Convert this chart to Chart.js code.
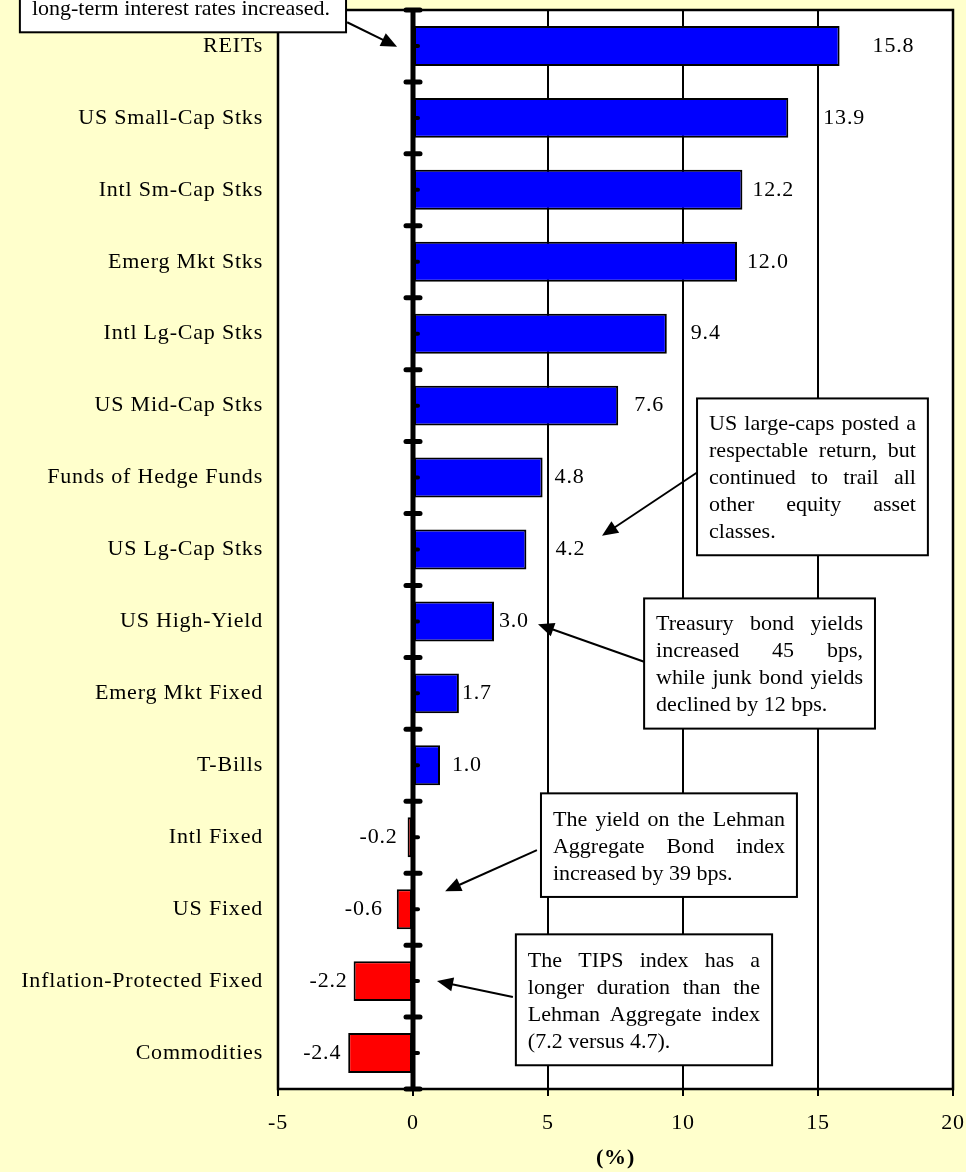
<!DOCTYPE html>
<html lang="en">
<head>
<meta charset="UTF-8" />
<title>Asset Class Returns</title>
<script src="https://cdn.jsdelivr.net/npm/chart.js"></script>
<style>
  html, body { margin: 0; padding: 0; background: #ffffcc; }
  canvas { display: block; }
</style>
</head>
<body>
<canvas id="grafica" width="966" height="1172"></canvas>

<script>
// data
const categories = [
  'REITs', 'US Small-Cap Stks', 'Intl Sm-Cap Stks', 'Emerg Mkt Stks',
  'Intl Lg-Cap Stks', 'US Mid-Cap Stks', 'Funds of Hedge Funds', 'US Lg-Cap Stks',
  'US High-Yield', 'Emerg Mkt Fixed', 'T-Bills', 'Intl Fixed', 'US Fixed',
  'Inflation-Protected Fixed', 'Commodities'
];
const returns = [15.8, 13.9, 12.2, 12.0, 9.4, 7.6, 4.8, 4.2, 3.0, 1.7, 1.0, -0.2, -0.6, -2.2, -2.4];
const xTicks = [-5, 0, 5, 10, 15, 20];
const axisTitle = '(%)';

// gap in px between bar end and its value label (labels were hand placed)
const labelGap = [33, 35, 10, 10, 24, 16, 12, 29, 5, 3, 12, 10, 14, 6, 7];

// callouts: box and arrow in axis units (x = %, y = category index)
const notes = [
  { lines: ['long-term interest rates increased.'],
    box: [-14.56, -1.5, -2.48, -0.19], from: [-2.44, -0.33], to: [-0.59, 0.01] },
  { lines: ['US large-caps posted a', 'respectable return, but', 'continued to trail all', 'other equity asset', 'classes.'],
    box: [10.52, 4.90, 19.07, 7.08], from: [10.52, 5.93], to: [7.0, 6.81] },
  { lines: ['Treasury bond yields', 'increased 45 bps,', 'while junk bond yields', 'declined by 12 bps.'],
    box: [8.56, 7.68, 17.11, 9.49], from: [8.56, 8.56], to: [4.63, 8.04] },
  { lines: ['The yield on the Lehman', 'Aggregate Bond index', 'increased by 39 bps.'],
    box: [4.74, 10.39, 14.22, 11.83], from: [4.59, 11.18], to: [1.19, 11.75] },
  { lines: ['The TIPS index has a', 'longer duration than the', 'Lehman Aggregate index', '(7.2 versus 4.7).'],
    box: [3.81, 12.35, 13.30, 14.17], from: [3.70, 13.22], to: [0.89, 13.0] }
];

const FONT = "'Liberation Serif', 'Times New Roman', serif";

function arrow(ctx, x1, y1, x2, y2) {
  const a = Math.atan2(y2 - y1, x2 - x1);
  const len = 16, hw = 7;
  ctx.beginPath();
  ctx.moveTo(x1, y1);
  ctx.lineTo(x2 - Math.cos(a) * len * 0.8, y2 - Math.sin(a) * len * 0.8);
  ctx.stroke();
  ctx.beginPath();
  ctx.moveTo(x2, y2);
  ctx.lineTo(x2 - Math.cos(a) * len - Math.sin(a) * hw, y2 - Math.sin(a) * len + Math.cos(a) * hw);
  ctx.lineTo(x2 - Math.cos(a) * len + Math.sin(a) * hw, y2 - Math.sin(a) * len - Math.cos(a) * hw);
  ctx.closePath();
  ctx.fill();
}

const decor = {
  id: 'decor',
  beforeDraw(chart) {
    const { ctx, chartArea: ca } = chart;
    ctx.save();
    ctx.fillStyle = '#ffffcc';
    ctx.fillRect(0, 0, chart.width, chart.height);
    ctx.fillStyle = '#ffffff';
    ctx.fillRect(ca.left, ca.top, ca.right - ca.left, ca.bottom - ca.top);
    ctx.restore();
    ctx.letterSpacing = '0.8px';
  },
  afterDatasetsDraw(chart) {
    const { ctx, chartArea: ca } = chart;
    const xs = chart.scales.x, ys = chart.scales.y;
    ctx.save();
    // frame
    ctx.strokeStyle = '#000';
    ctx.lineWidth = 2.5;
    ctx.strokeRect(ca.left, ca.top, ca.right - ca.left, ca.bottom - ca.top);

    // zero axis with its tick marks
    const x0 = xs.getPixelForValue(0);
    ctx.lineWidth = 5;
    ctx.beginPath();
    ctx.moveTo(x0, ca.top);
    ctx.lineTo(x0, ca.bottom);
    ctx.stroke();
    ctx.lineCap = 'round';
    for (let i = 0; i <= categories.length; i++) {
      const y = ys.getPixelForValue(i - 0.5);
      ctx.beginPath();
      ctx.moveTo(x0 - 7, y);
      ctx.lineTo(x0 + 7, y);
      ctx.stroke();
    }
    ctx.lineWidth = 4;
    for (let i = 0; i < categories.length; i++) {
      const y = ys.getPixelForValue(i);
      ctx.beginPath();
      ctx.moveTo(x0, y);
      ctx.lineTo(x0 + 5, y);
      ctx.stroke();
    }

    // value labels
    const meta = chart.getDatasetMeta(0);
    ctx.fillStyle = '#000';
    ctx.font = '22px ' + FONT;
    ctx.letterSpacing = '0.8px';
    ctx.textBaseline = 'middle';
    meta.data.forEach((bar, i) => {
      const v = returns[i];
      const txt = v.toFixed(1);
      if (v < 0) {
        ctx.textAlign = 'right';
        ctx.fillText(txt, bar.x - labelGap[i], bar.y);
      } else {
        ctx.textAlign = 'left';
        ctx.fillText(txt, bar.x + labelGap[i], bar.y);
      }
    });
    ctx.restore();
  },
  afterDraw(chart) {
    const { ctx } = chart;
    const xs = chart.scales.x, ys = chart.scales.y;
    ctx.save();
    ctx.letterSpacing = '0px';
    ctx.font = '22px ' + FONT;
    ctx.textBaseline = 'middle';
    ctx.textAlign = 'left';
    notes.forEach(n => {
      const l = xs.getPixelForValue(n.box[0]), t = ys.getPixelForValue(n.box[1]);
      const r = xs.getPixelForValue(n.box[2]), b = ys.getPixelForValue(n.box[3]);
      ctx.strokeStyle = '#000';
      ctx.fillStyle = '#000';
      ctx.lineWidth = 2;
      arrow(ctx, xs.getPixelForValue(n.from[0]), ys.getPixelForValue(n.from[1]),
                 xs.getPixelForValue(n.to[0]), ys.getPixelForValue(n.to[1]));
      ctx.fillStyle = '#fff';
      ctx.fillRect(l, t, r - l, b - t);
      ctx.strokeRect(l, t, r - l, b - t);
      ctx.fillStyle = '#000';
      const pad = 12, inner = r - l - 2 * pad;
      n.lines.forEach((line, k) => {
        const y = b - 23 - (n.lines.length - 1 - k) * 27;
        const words = line.split(' ');
        if (k === n.lines.length - 1 || words.length < 2) {
          ctx.fillText(line, l + pad, y);
          return;
        }
        // justified line
        const widths = words.map(w => ctx.measureText(w).width);
        const gap = (inner - widths.reduce((s, w) => s + w, 0)) / (words.length - 1);
        let x = l + pad;
        words.forEach((w, j) => {
          ctx.fillText(w, x, y);
          x += widths[j] + gap;
        });
      });
    });
    ctx.restore();
  }
};

const ctx = document.getElementById('grafica').getContext('2d');
const chart = new Chart(ctx, {
  type: 'bar',
  data: {
    labels: categories,
    datasets: [{
      data: returns,
      backgroundColor: returns.map(v => v < 0 ? '#ff0000' : '#0000ff'),
      borderColor: '#000',
      borderWidth: 2,
      borderSkipped: false,
      categoryPercentage: 1,
      barPercentage: 0.555
    }]
  },
  options: {
    indexAxis: 'y',
    responsive: false,
    devicePixelRatio: 1,
    animation: false,
    layout: { padding: { top: 10, right: 13, bottom: 0, left: 0 } },
    plugins: { legend: { display: false }, tooltip: { enabled: false } },
    scales: {
      x: {
        type: 'linear',
        min: -5,
        max: 20,
        afterBuildTicks: s => { s.ticks = xTicks.map(v => ({ value: v })); },
        ticks: { font: { family: FONT, size: 22 }, color: '#000', padding: 14 },
        grid: { color: '#000', lineWidth: 2, tickLength: 7 },
        border: { display: false },
        title: {
          display: true, text: axisTitle, color: '#000', padding: 0,
          font: { family: FONT, size: 22, weight: 'bold' }
        },
        afterFit: s => { s.height = 83; s.paddingLeft = 0; s.paddingRight = 0; }
      },
      y: {
        ticks: { font: { family: FONT, size: 22 }, color: '#000', padding: 15, autoSkip: false },
        grid: { display: false, drawTicks: false },
        border: { display: false },
        afterFit: s => { s.width = 278; s.paddingTop = 0; s.paddingBottom = 0; }
      }
    }
  },
  plugins: [decor]
});
</script>
</body>
</html>
